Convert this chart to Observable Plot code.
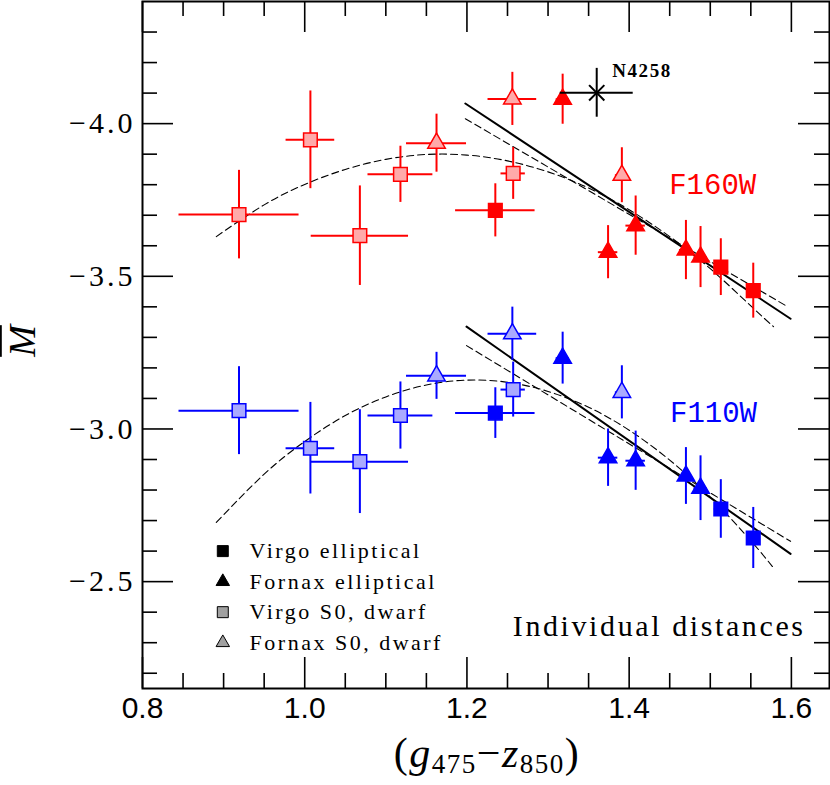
<!DOCTYPE html>
<html><head><meta charset="utf-8">
<script src="https://cdn.jsdelivr.net/npm/d3@7"></script>
<script src="https://cdn.jsdelivr.net/npm/@observablehq/plot@0.6"></script>
<style>body{margin:0;background:#fff} #chart{width:830px;height:785px}</style>
</head><body><div id="chart"></div>
<script>
// ---- data ----
const color    = [0.919,1.007,1.068,1.118,1.1625,1.235,1.256,1.257,1.318,1.374,1.391,1.408,1.470,1.488,1.513,1.553];
const colorErr = [0.074,0.030,0.060,0.040,0.037,0.049,0.030,0.015,0.008,0.012,0.008,0.012,0.008,0.008,0.008,0.008];
const galaxyType = ["VS","VS","VS","VS","FS","VE","FS","VS","FE","FE","FS","FE","FE","FE","VE","VE"];
const M160  = [-3.702,-3.947,-3.633,-3.834,-3.936,-3.716,-4.081,-3.837,-4.080,-3.579,-3.831,-3.666,-3.586,-3.563,-3.530,-3.453];
const eM160 = [0.145,0.160,0.163,0.092,0.095,0.087,0.087,0.085,0.082,0.087,0.090,0.097,0.097,0.100,0.093,0.090];
const M110  = [-3.060,-2.937,-2.893,-3.044,-3.174,-3.052,-3.312,-3.129,-3.232,-2.906,-3.120,-2.896,-2.846,-2.806,-2.738,-2.643];
const eM110 = [0.144,0.150,0.170,0.110,0.077,0.083,0.087,0.090,0.085,0.094,0.087,0.097,0.093,0.106,0.096,0.100];

// N4258 point
const n4258 = {x: 1.360, ex: 0.045, M: -4.101, eM: 0.080};

// fit curves
const quadX      = [0.891,0.95,1.00,1.05,1.10,1.15,1.20,1.25,1.30,1.35,1.40,1.45,1.50,1.55,1.578];
const quad160M   = [-3.630,-3.734,-3.801,-3.850,-3.883,-3.899,-3.897,-3.878,-3.842,-3.789,-3.718,-3.630,-3.525,-3.403,-3.335];
const quad110M   = [-2.694,-2.852,-2.959,-3.044,-3.105,-3.144,-3.160,-3.153,-3.123,-3.071,-2.996,-2.898,-2.777,-2.634,-2.545];
const lin160X = [1.198, 1.599], lin160M = [-4.066, -3.361];
const lin160bX = [1.198, 1.595], lin160bM = [-4.016, -3.401];
const lin110X = [1.1995, 1.599], lin110M = [-3.335, -2.591];
const lin110bX = [1.1995, 1.599], lin110bM = [-3.273, -2.632];

// ticks
const xMajor = [0.8, 1.0, 1.2, 1.4, 1.6];
const xMinor = [0.85,0.9,0.95,1.05,1.1,1.15,1.25,1.3,1.35,1.45,1.5,1.55];
const yMajor = [-4.0, -3.5, -3.0, -2.5];
const yMinor = [-4.3,-4.2,-4.1,-3.9,-3.8,-3.7,-3.6,-3.4,-3.3,-3.2,-3.1,-2.9,-2.8,-2.7,-2.6,-2.4,-2.3,-2.2];

// legend
const legendLabels  = ["Virgo elliptical","Fornax elliptical","Virgo S0, dwarf","Fornax S0, dwarf"];
const legendSymbols = ["square","triangle","square","triangle"];
const legendFills   = ["black","black","#a0a0a0","#a0a0a0"];

// ---- build tables ----
const bandColor = {F160W: "#ff0000", F110W: "#0000ff"};
const bandLight = {F160W: "#ffaaaa", F110W: "#aaaaff"};
const isS0 = t => t === "VS" || t === "FS";
const isSq = t => t === "VE" || t === "VS";
const pts = color.map((x, i) => ({x, ex: colorErr[i], type: galaxyType[i]}));
const data = [
  ...pts.map((p, i) => ({...p, M: M160[i], eM: eM160[i], band: "F160W"})),
  ...pts.map((p, i) => ({...p, M: M110[i], eM: eM110[i], band: "F110W"}))
];
const line = (xs, ys) => xs.map((x, i) => ({x, M: ys[i]}));
const innerH = 687, innerW = 687;
const LMAJ = 31, LMIN = 15;

const plot = Plot.plot({
  width: 830, height: 785,
  marginLeft: 142, marginRight: 1, marginTop: 1, marginBottom: 97,
  x: {domain: [0.8, 1.647]},
  y: {domain: [-2.15, -4.4]},
  style: {background: "white", fontFamily: "Liberation Serif", fontSize: "20px", color: "black"},
  marks: [
    // ticks (inward, all four sides)
    Plot.tickX(xMajor, {x: d => d, insetTop: innerH - LMAJ, stroke: "black", strokeWidth: 1.6}),
    Plot.tickX(xMajor, {x: d => d, insetBottom: innerH - LMAJ, stroke: "black", strokeWidth: 1.6}),
    Plot.tickX(xMinor, {x: d => d, insetTop: innerH - LMIN, stroke: "black", strokeWidth: 1.6}),
    Plot.tickX(xMinor, {x: d => d, insetBottom: innerH - LMIN, stroke: "black", strokeWidth: 1.6}),
    Plot.tickY(yMajor, {y: d => d, insetRight: innerW - LMAJ, stroke: "black", strokeWidth: 1.6}),
    Plot.tickY(yMajor, {y: d => d, insetLeft: innerW - LMAJ, stroke: "black", strokeWidth: 1.6}),
    Plot.tickY(yMinor, {y: d => d, insetRight: innerW - LMIN, stroke: "black", strokeWidth: 1.6}),
    Plot.tickY(yMinor, {y: d => d, insetLeft: innerW - LMIN, stroke: "black", strokeWidth: 1.6}),
    Plot.axisX({ticks: xMajor, tickSize: 0, tickPadding: 8, tickFormat: d3.format(".1f"), fontSize: 30, fontFamily: "Liberation Sans", label: null}),
    Plot.axisY({ticks: yMajor, tickSize: 0, tickPadding: 7, tickFormat: d3.format(".1f"), fontSize: 30, fontFamily: "Liberation Serif", label: null}),
    // fits
    Plot.line(line(quadX, quad160M), {x: "x", y: "M", curve: "natural", stroke: "black", strokeWidth: 1.1, strokeDasharray: "7,4"}),
    Plot.line(line(quadX, quad110M), {x: "x", y: "M", curve: "natural", stroke: "black", strokeWidth: 1.1, strokeDasharray: "7,4"}),
    Plot.line(line(lin160bX, lin160bM), {x: "x", y: "M", stroke: "black", strokeWidth: 1.1, strokeDasharray: "7,4"}),
    Plot.line(line(lin110bX, lin110bM), {x: "x", y: "M", stroke: "black", strokeWidth: 1.1, strokeDasharray: "7,4"}),
    Plot.line(line(lin160X, lin160M), {x: "x", y: "M", stroke: "black", strokeWidth: 2}),
    Plot.line(line(lin110X, lin110M), {x: "x", y: "M", stroke: "black", strokeWidth: 2}),
    // error bars
    Plot.ruleX(data, {x: "x", y1: d => d.M - d.eM, y2: d => d.M + d.eM, stroke: d => bandColor[d.band], strokeWidth: 2}),
    Plot.ruleY(data, {y: "M", x1: d => d.x - d.ex, x2: d => d.x + d.ex, stroke: d => bandColor[d.band], strokeWidth: 2}),
    // markers
    Plot.dot(data.filter(d => isSq(d.type)), {x: "x", y: "M", symbol: "square", r: 7.7,
      fill: d => isS0(d.type) ? bandLight[d.band] : bandColor[d.band], stroke: d => bandColor[d.band], strokeWidth: 1.5}),
    Plot.dot(data.filter(d => !isSq(d.type)), {x: "x", y: "M", symbol: "triangle", r: 6.5,
      fill: d => isS0(d.type) ? bandLight[d.band] : bandColor[d.band], stroke: d => bandColor[d.band], strokeWidth: 1.5}),
    // N4258
    Plot.ruleX([n4258], {x: "x", y1: d => d.M - d.eM, y2: d => d.M + d.eM, stroke: "black", strokeWidth: 2}),
    Plot.ruleY([n4258], {y: "M", x1: d => d.x - d.ex, x2: d => d.x + d.ex, stroke: "black", strokeWidth: 2}),
    Plot.dot([n4258], {x: "x", y: "M", symbol: "times", r: 7, stroke: "black", strokeWidth: 2}),
    Plot.text(["N4258"], {x: 1.379, y: -4.172, text: d => d, textAnchor: "start", fontSize: 19, fontWeight: "bold", fontFamily: "Liberation Serif", fill: "black"}),
    // band labels
    Plot.text(["F160W"], {x: 1.503, y: -3.80, text: d => d, fontSize: 29, fontFamily: "Liberation Mono", fill: "#ff0000"}),
    Plot.text(["F110W"], {x: 1.504, y: -3.052, text: d => d, fontSize: 29, fontFamily: "Liberation Mono", fill: "#0000ff"}),
    Plot.text(["Individual distances"], {x: 1.6138, y: -2.352, dx: 3, text: d => d, textAnchor: "end", fontSize: 30, fontFamily: "Liberation Serif", fill: "black"}),
    // legend
    Plot.dot(legendLabels, {filter: (d, i) => legendSymbols[i] === "square", x: 0.899, y: (d, i) => -2.6 + 0.1 * i,
      symbol: "square", r: 6.2, fill: (d, i) => legendFills[i], stroke: "black", strokeWidth: 1}),
    Plot.dot(legendLabels, {filter: (d, i) => legendSymbols[i] === "triangle", x: 0.899, y: (d, i) => -2.6 + 0.1 * i,
      symbol: "triangle", r: 5.0, fill: (d, i) => legendFills[i], stroke: "black", strokeWidth: 1}),
    Plot.text(legendLabels, {x: 0.932, y: (d, i) => -2.6 + 0.1 * i, text: d => d, textAnchor: "start", fontSize: 22, fontFamily: "Liberation Serif", fill: "black"}),
    Plot.frame({stroke: "black", strokeWidth: 2})
  ]
});
document.getElementById("chart").appendChild(plot);

// letter spacing to mimic the wide plotting font
const spacing = {"Individual distances": 2.6, "N4258": 1.6};
legendLabels.forEach(l => spacing[l] = 2.5);
plot.querySelectorAll("text").forEach(t => {
  const s = spacing[t.textContent];
  if (s != null) t.setAttribute("letter-spacing", s);
});
plot.querySelectorAll('g[aria-label="y-axis tick label"] text').forEach(t => t.setAttribute("letter-spacing", 3));

// axis titles
const svg = d3.select(plot);
const xl = svg.append("text").attr("x", 487).attr("y", 767).attr("text-anchor", "middle")
  .attr("font-family", "Liberation Serif").attr("font-size", 42).attr("fill", "black").attr("letter-spacing", 1.5);
xl.append("tspan").text("(");
xl.append("tspan").attr("font-style", "italic").text("g");
xl.append("tspan").attr("font-size", 27).attr("dy", 6).text("475");
xl.append("tspan").attr("dy", -6).text("−");
xl.append("tspan").attr("font-style", "italic").text("z");
xl.append("tspan").attr("font-size", 27).attr("dy", 6).text("850");
xl.append("tspan").attr("dy", -6).text(")");
svg.append("text").attr("transform", "translate(35,341) rotate(-90)").attr("text-anchor", "middle")
  .attr("font-family", "Liberation Serif").attr("font-style", "italic").attr("font-size", 38)
  .attr("fill", "black").style("text-decoration", "overline").text("M");
</script></body></html>
